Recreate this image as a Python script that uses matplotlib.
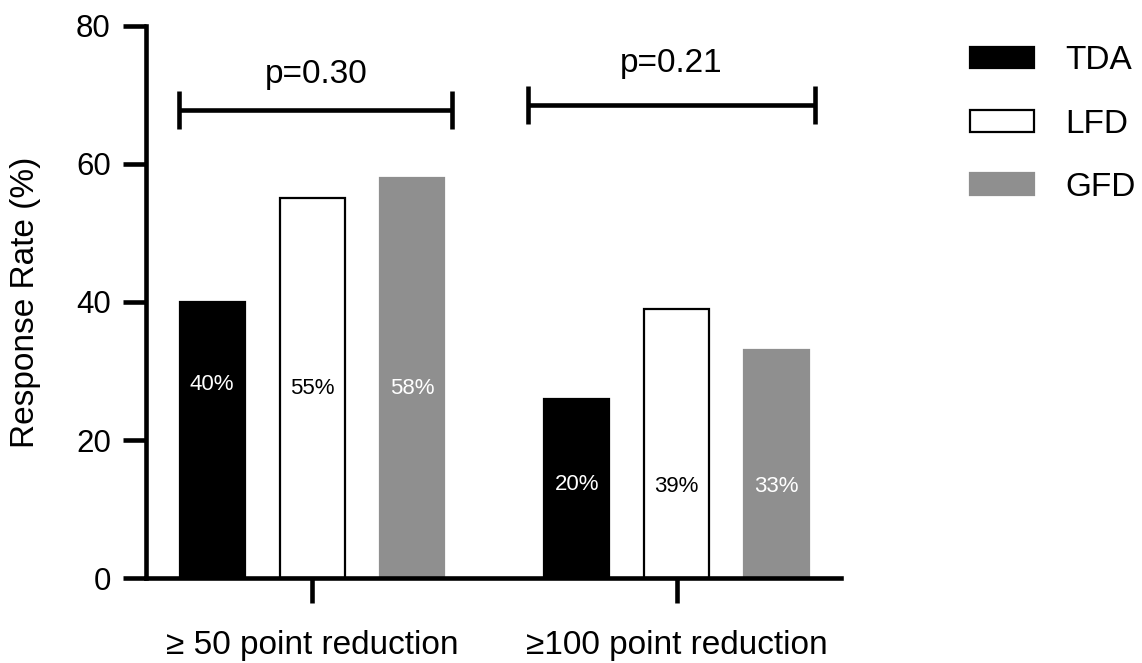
"""
Response rate by diet group (TDA / LFD / GFD), grouped bar chart with p-value brackets.
"""

import matplotlib

matplotlib.use("Agg")
import matplotlib.pyplot as plt
import numpy as np

# --- data -------------------------------------------------------------------
categories = ["\u2265 50 point reduction", "\u2265100 point reduction"]
series_names = ["TDA", "LFD", "GFD"]
tda_values = [40, 26]
lfd_values = [55, 39]
gfd_values = [58, 33]
tda_labels = ["40%", "20%"]
lfd_labels = ["55%", "39%"]
gfd_labels = ["58%", "33%"]
p_values = ["p=0.30", "p=0.21"]

# --- style / layout ---------------------------------------------------------
FACE = {"TDA": "black", "LFD": "white", "GFD": "#8f8f8f"}
EDGE = {"TDA": "black", "LFD": "black", "GFD": "#8f8f8f"}
TEXT = {"TDA": "white", "LFD": "black", "GFD": "white"}
BAR_STEP = 0.274
BAR_WIDTH = 0.178
LABEL_Y = [[28, 27.4, 27.4], [13.6, 13.3, 13.3]]
BRACKETS = [(-0.364, 0.384, 67.8), (0.592, 1.378, 68.6)]
PTEXT_Y = [73.0, 74.6]

plt.rcParams["font.family"] = ["Liberation Sans", "DejaVu Sans"]


def main() -> int:
    fig = plt.figure(figsize=(11.42, 6.63), dpi=100)
    ax = fig.add_axes([0.128, 0.128, 0.608, 0.833])

    x = np.arange(len(categories))
    values = [tda_values, lfd_values, gfd_values]
    labels = [tda_labels, lfd_labels, gfd_labels]

    handles = []
    for i, name in enumerate(series_names):
        xpos = x + (i - 1) * BAR_STEP
        bars = ax.bar(
            xpos,
            values[i],
            width=BAR_WIDTH,
            color=FACE[name],
            edgecolor=EDGE[name],
            linewidth=1.6,
            label=name,
            zorder=2,
        )
        handles.append(bars)
        for g, xp in enumerate(xpos):
            ax.text(
                xp, LABEL_Y[g][i], labels[i][g],
                ha="center", va="center", fontsize=16, color=TEXT[name],
            )

    # p-value brackets
    for (x0, x1, yb), py, ptxt in zip(BRACKETS, PTEXT_Y, p_values):
        ax.errorbar(
            (x0 + x1) / 2, yb, xerr=(x1 - x0) / 2,
            fmt="none", ecolor="black", elinewidth=3.3,
            capsize=14, capthick=3.3, zorder=3,
        )
        ax.text((x0 + x1) / 2, py, ptxt, ha="center", va="center", fontsize=24)

    ax.set_xlim(-0.455, 1.449)
    ax.set_ylim(0, 80)
    ax.set_yticks([0, 20, 40, 60, 80])
    ax.set_xticks(x)
    ax.set_xticklabels(categories)

    for side in ("top", "right"):
        ax.spines[side].set_visible(False)
    for side in ("left", "bottom"):
        ax.spines[side].set_linewidth(3.3)
    ax.tick_params(axis="y", length=16.5, width=3.3, pad=9, labelsize=22.5)
    ax.tick_params(axis="x", length=18, width=3.3, pad=19, labelsize=24)

    ax.set_ylabel("Response Rate (%)", fontsize=24)
    ax.yaxis.set_label_coords(-0.152, 0.5)

    fig.legend(
        handles=handles,
        labels=series_names,
        loc="upper left",
        bbox_to_anchor=(0.8228, 0.977),
        frameon=False,
        fontsize=24,
        handlelength=1.92,
        handleheight=0.63,
        handletextpad=0.96,
        labelspacing=0.97,
    )

    fig.savefig("out.png", dpi=100)
    plt.close(fig)
    return 0


if __name__ == "__main__":
    raise SystemExit(main())
